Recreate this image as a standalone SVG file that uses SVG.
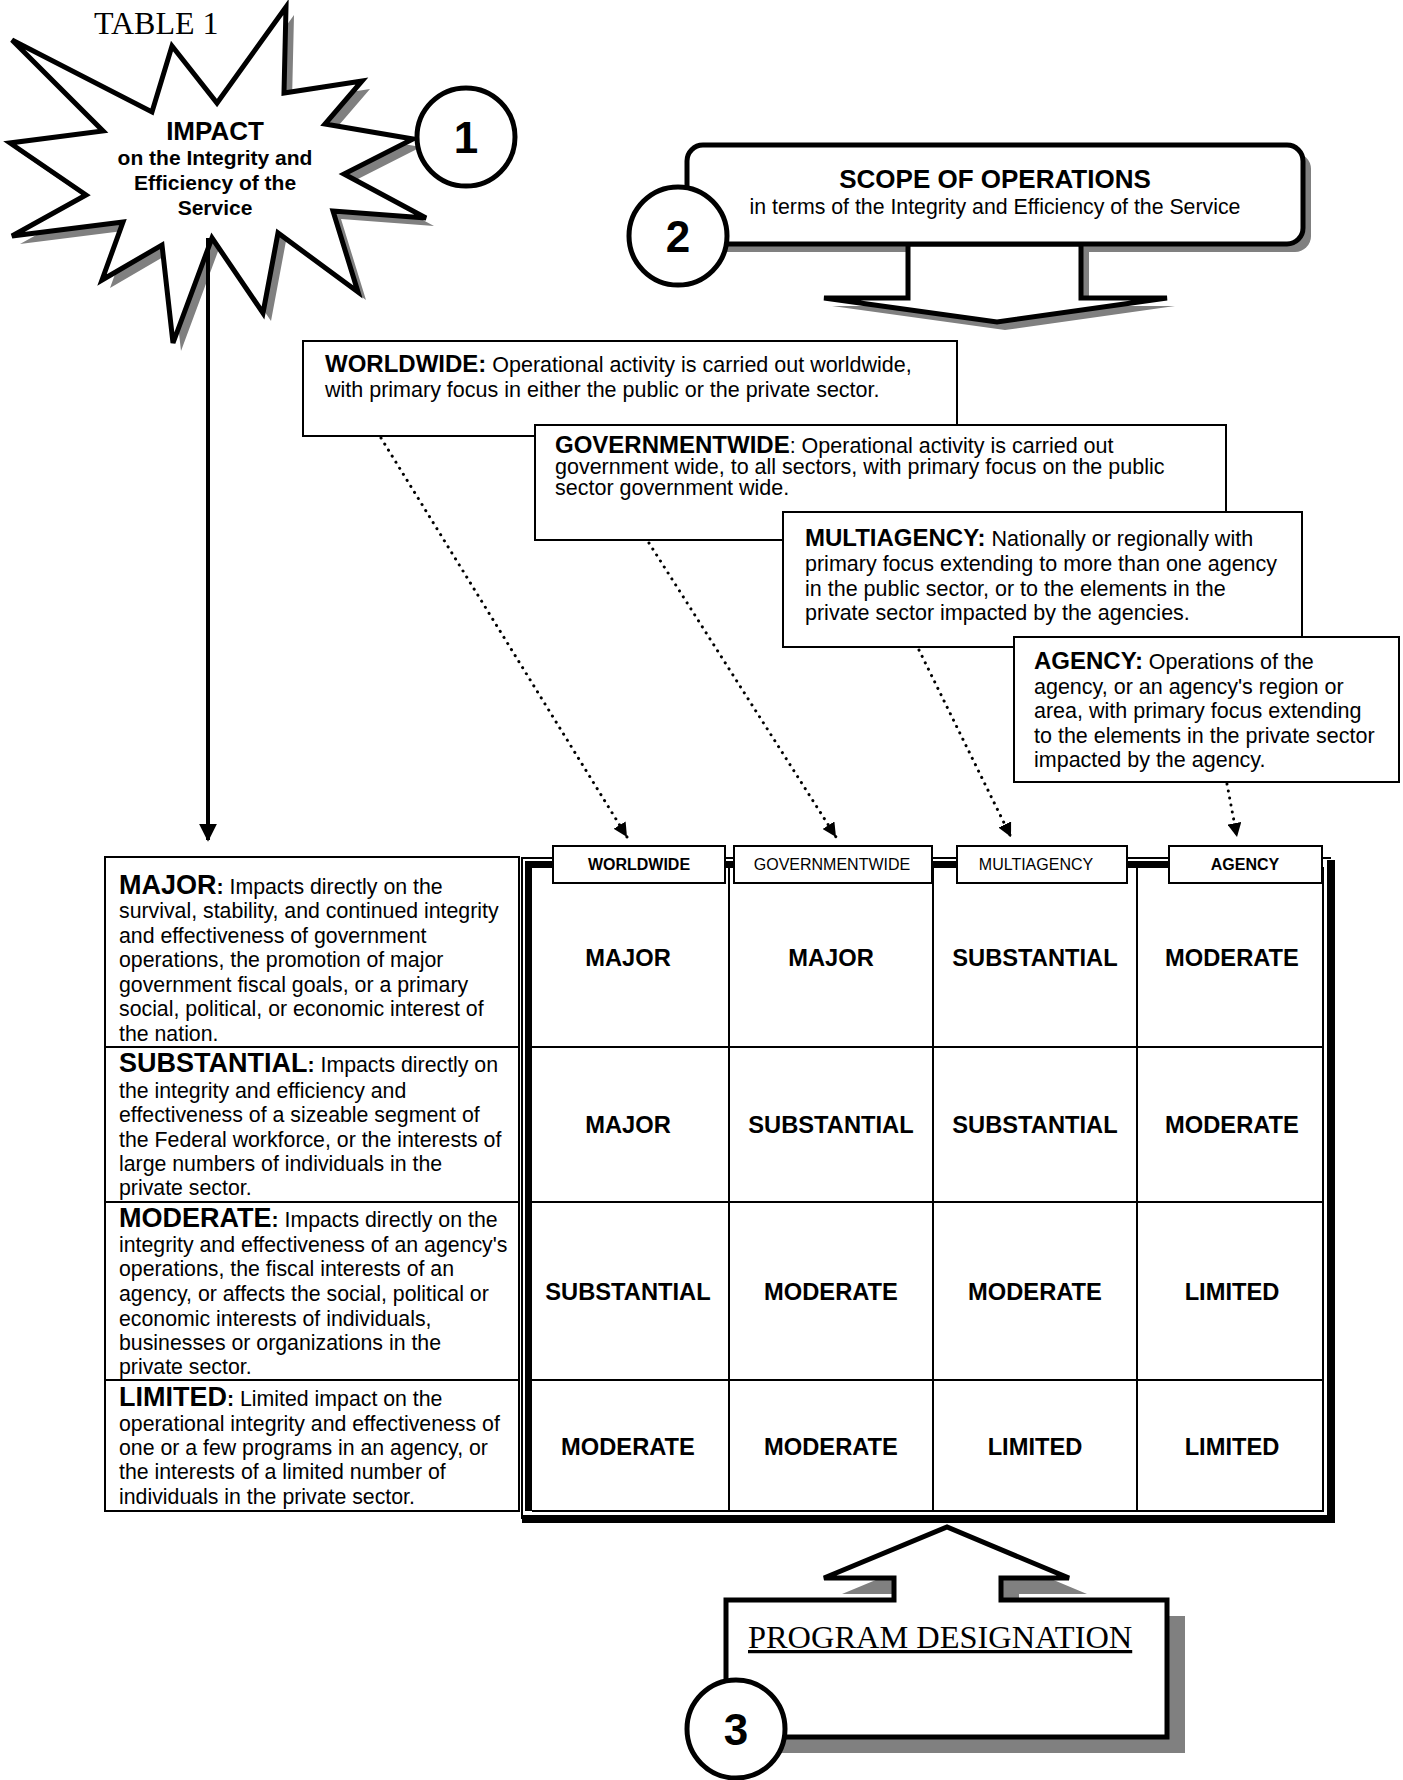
<svg xmlns="http://www.w3.org/2000/svg" width="1403" height="1780" viewBox="0 0 1403 1780">
<style>
text{font-family:"Liberation Sans",Arial,sans-serif;fill:#000}
.serif{font-family:"Liberation Serif","Times New Roman",serif}
.b{font-weight:bold}
.bl{font-weight:bold;font-size:24px}
.box{fill:#fff;stroke:#000;stroke-width:2}
.thick{fill:#fff;stroke:#000;stroke-width:5;stroke-linejoin:miter}
.shadow{fill:#808080;stroke:none}
.num{font-size:44px;font-weight:bold;text-anchor:middle}
.desc{font-size:21.5px}
.left{font-size:21.3px}
.lead{font-size:27px;font-weight:bold}
.cell{font-size:23.7px;font-weight:bold;text-anchor:middle}
.tab{font-size:16px;text-anchor:middle}
.grid{stroke:#000;stroke-width:2;fill:none}
.dots{fill:none;stroke:#000;stroke-width:3;stroke-linecap:round;stroke-dasharray:0.1 7}
</style>
<defs>
<marker id="ah" viewBox="0 0 10 10" refX="10" refY="5" markerWidth="14" markerHeight="14" markerUnits="userSpaceOnUse" orient="auto">
<path d="M0,0 L10,5 L0,10 z" fill="#000"/>
</marker>
<marker id="ahBig" viewBox="0 0 10 10" refX="9" refY="5" markerWidth="18" markerHeight="18" markerUnits="userSpaceOnUse" orient="auto">
<path d="M0,0 L10,5 L0,10 z" fill="#000"/>
</marker>
</defs>

<text id="title" class="serif" x="94" y="34" font-size="32">TABLE 1</text>

<g id="connectors">
<line x1="208" y1="238" x2="208" y2="840" stroke="#000" stroke-width="4" marker-end="url(#ahBig)"/>
<line class="dots" x1="381" y1="438" x2="627" y2="837" marker-end="url(#ah)"/>
<line class="dots" x1="649" y1="543" x2="836" y2="837" marker-end="url(#ah)"/>
<line class="dots" x1="919" y1="650" x2="1011" y2="837" marker-end="url(#ah)"/>
<line class="dots" x1="1227" y1="784" x2="1237" y2="837" marker-end="url(#ah)"/>
</g>

<g id="impact">
<polygon class="shadow" transform="translate(8,8)" points="12,40 152,112 172,46 217,103 286,7 284,93 362,81 325,124 413,139 344,174 426,218 333,211 358,292 278,233 263,313 212,238 173,343 162,245 102,280 123,222 12,236 86,195 10,143 103,131"/>
<polygon class="thick" points="12,40 152,112 172,46 217,103 286,7 284,93 362,81 325,124 413,139 344,174 426,218 333,211 358,292 278,233 263,313 212,238 173,343 162,245 102,280 123,222 12,236 86,195 10,143 103,131"/>
<line x1="208" y1="238" x2="208" y2="350" stroke="#000" stroke-width="4"/>
<text x="215" y="140" font-size="26" class="b" text-anchor="middle">IMPACT</text>
<text x="215" y="165" font-size="21" class="b" text-anchor="middle">on the Integrity and</text>
<text x="215" y="190" font-size="21" class="b" text-anchor="middle">Efficiency of the</text>
<text x="215" y="215" font-size="21" class="b" text-anchor="middle">Service</text>
</g>

<g id="badge1">
<circle cx="466" cy="137" r="49" fill="#fff" stroke="#000" stroke-width="5"/>
<text class="num" x="466" y="153">1</text>
</g>

<g id="scope">
<polygon class="shadow" transform="translate(8,8)" points="908,244 908,298 824,298 997,322 1167,298 1081,298 1081,244"/>
<rect class="shadow" x="695" y="153" width="616" height="99" rx="16"/>
<polygon class="thick" points="908,244 908,298 824,298 997,322 1167,298 1081,298 1081,244"/>
<rect class="thick" x="687" y="145" width="616" height="99" rx="16"/>
<text x="995" y="188" font-size="26" class="b" text-anchor="middle">SCOPE OF OPERATIONS</text>
<text x="995" y="214" font-size="21.3" text-anchor="middle">in terms of the Integrity and Efficiency of the Service</text>
</g>

<g id="badge2">
<circle cx="678" cy="236" r="49" fill="#fff" stroke="#000" stroke-width="5"/>
<text class="num" x="678" y="252">2</text>
</g>

<g id="worldwide">
<rect class="box" x="303" y="341" width="654" height="95"/>
<text class="desc" x="325" y="372"><tspan class="bl">WORLDWIDE:</tspan> Operational activity is carried out worldwide,</text>
<text class="desc" x="325" y="397">with primary focus in either the public or the private sector.</text>
</g>

<g id="governmentwide">
<rect class="box" x="535" y="425" width="691" height="115"/>
<text class="desc" x="555" y="453"><tspan class="bl">GOVERNMENTWIDE</tspan>: Operational activity is carried out</text>
<text class="desc" x="555" y="474" font-size="21.3">government wide, to all sectors, with primary focus on the public</text>
<text class="desc" x="555" y="495" font-size="21.3">sector government wide.</text>
</g>

<g id="multiagency">
<rect class="box" x="783" y="512" width="519" height="135"/>
<text class="desc" x="805" y="546"><tspan class="bl">MULTIAGENCY:</tspan> Nationally or regionally with</text>
<text class="desc" x="805" y="571">primary focus extending to more than one agency</text>
<text class="desc" x="805" y="596">in the public sector, or to the elements in the</text>
<text class="desc" x="805" y="620">private sector impacted by the agencies.</text>
</g>

<g id="agency">
<rect class="box" x="1014" y="637" width="385" height="145"/>
<text class="desc" x="1034" y="669"><tspan class="bl">AGENCY:</tspan> Operations of the</text>
<text class="desc" x="1034" y="694">agency, or an agency's region or</text>
<text class="desc" x="1034" y="718">area, with primary focus extending</text>
<text class="desc" x="1034" y="743">to the elements in the private sector</text>
<text class="desc" x="1034" y="767">impacted by the agency.</text>
</g>

<g id="impact-levels">
<rect class="box" x="105" y="857" width="414" height="654"/>
<line class="grid" x1="105" y1="1047" x2="519" y2="1047"/>
<line class="grid" x1="105" y1="1202" x2="519" y2="1202"/>
<line class="grid" x1="105" y1="1380" x2="519" y2="1380"/>
<text class="left" x="119" y="894"><tspan class="lead">MAJOR</tspan><tspan class="b">:</tspan> Impacts directly on the</text>
<text class="left" x="119" y="918">survival, stability, and continued integrity</text>
<text class="left" x="119" y="943">and effectiveness of government</text>
<text class="left" x="119" y="967">operations, the promotion of major</text>
<text class="left" x="119" y="992">government fiscal goals, or a primary</text>
<text class="left" x="119" y="1016">social, political, or economic interest of</text>
<text class="left" x="119" y="1041">the nation.</text>
<text class="left" x="119" y="1072"><tspan class="lead">SUBSTANTIAL</tspan><tspan class="b">:</tspan> Impacts directly on</text>
<text class="left" x="119" y="1098">the integrity and efficiency and</text>
<text class="left" x="119" y="1122">effectiveness of a sizeable segment of</text>
<text class="left" x="119" y="1147">the Federal workforce, or the interests of</text>
<text class="left" x="119" y="1171">large numbers of individuals in the</text>
<text class="left" x="119" y="1195">private sector.</text>
<text class="left" x="119" y="1227"><tspan class="lead">MODERATE</tspan><tspan class="b">:</tspan> Impacts directly on the</text>
<text class="left" x="119" y="1252">integrity and effectiveness of an agency's</text>
<text class="left" x="119" y="1276">operations, the fiscal interests of an</text>
<text class="left" x="119" y="1301">agency, or affects the social, political or</text>
<text class="left" x="119" y="1326">economic interests of individuals,</text>
<text class="left" x="119" y="1350">businesses or organizations in the</text>
<text class="left" x="119" y="1374">private sector.</text>
<text class="left" x="119" y="1406"><tspan class="lead">LIMITED</tspan><tspan class="b">:</tspan> Limited impact on the</text>
<text class="left" x="119" y="1431">operational integrity and effectiveness of</text>
<text class="left" x="119" y="1455">one or a few programs in an agency, or</text>
<text class="left" x="119" y="1479">the interests of a limited number of</text>
<text class="left" x="119" y="1504">individuals in the private sector.</text>
</g>

<g id="matrix">
<rect x="522" y="858" width="809" height="661" fill="#fff" stroke="none"/>
<path d="M522,1519 V858 H1331" fill="none" stroke="#000" stroke-width="2"/>
<path d="M528.5,1511 V864.5 H1323" fill="none" stroke="#000" stroke-width="7"/>
<path d="M1331,860 V1519 H522" fill="none" stroke="#000" stroke-width="8"/>
<path d="M532,1511 H1323 V867" fill="none" stroke="#000" stroke-width="2"/>
<line class="grid" x1="729" y1="867" x2="729" y2="1511"/>
<line class="grid" x1="933" y1="867" x2="933" y2="1511"/>
<line class="grid" x1="1137" y1="867" x2="1137" y2="1511"/>
<line class="grid" x1="532" y1="1047" x2="1323" y2="1047"/>
<line class="grid" x1="532" y1="1202" x2="1323" y2="1202"/>
<line class="grid" x1="532" y1="1380" x2="1323" y2="1380"/>
<text class="cell" x="628" y="966">MAJOR</text>
<text class="cell" x="831" y="966">MAJOR</text>
<text class="cell" x="1035" y="966">SUBSTANTIAL</text>
<text class="cell" x="1232" y="966">MODERATE</text>
<text class="cell" x="628" y="1133">MAJOR</text>
<text class="cell" x="831" y="1133">SUBSTANTIAL</text>
<text class="cell" x="1035" y="1133">SUBSTANTIAL</text>
<text class="cell" x="1232" y="1133">MODERATE</text>
<text class="cell" x="628" y="1300">SUBSTANTIAL</text>
<text class="cell" x="831" y="1300">MODERATE</text>
<text class="cell" x="1035" y="1300">MODERATE</text>
<text class="cell" x="1232" y="1300">LIMITED</text>
<text class="cell" x="628" y="1455">MODERATE</text>
<text class="cell" x="831" y="1455">MODERATE</text>
<text class="cell" x="1035" y="1455">LIMITED</text>
<text class="cell" x="1232" y="1455">LIMITED</text>
</g>

<g id="tab-worldwide">
<rect class="box" x="553" y="846" width="172" height="37"/>
<text class="tab b" x="639" y="870">WORLDWIDE</text>
</g>
<g id="tab-governmentwide">
<rect class="box" x="734" y="846" width="198" height="37"/>
<text class="tab" x="832" y="870">GOVERNMENTWIDE</text>
</g>
<g id="tab-multiagency">
<rect class="box" x="957" y="846" width="170" height="37"/>
<text class="tab" x="1036" y="870">MULTIAGENCY</text>
</g>
<g id="tab-agency">
<rect class="box" x="1169" y="846" width="153" height="37"/>
<text class="tab b" x="1245" y="870">AGENCY</text>
</g>

<g id="program">
<polygon class="shadow" transform="translate(18,16)" points="726,1600 894,1600 894,1578 824,1578 947,1527 1069,1578 1001,1578 1001,1600 1167,1600 1167,1737 726,1737"/>
<polygon class="thick" points="726,1600 894,1600 894,1578 824,1578 947,1527 1069,1578 1001,1578 1001,1600 1167,1600 1167,1737 726,1737"/>
<text class="serif" x="748" y="1648" font-size="32.4" text-decoration="underline">PROGRAM DESIGNATION</text>
</g>

<g id="badge3">
<circle cx="736" cy="1729" r="49" fill="#fff" stroke="#000" stroke-width="5"/>
<text class="num" x="736" y="1745">3</text>
</g>
</svg>
